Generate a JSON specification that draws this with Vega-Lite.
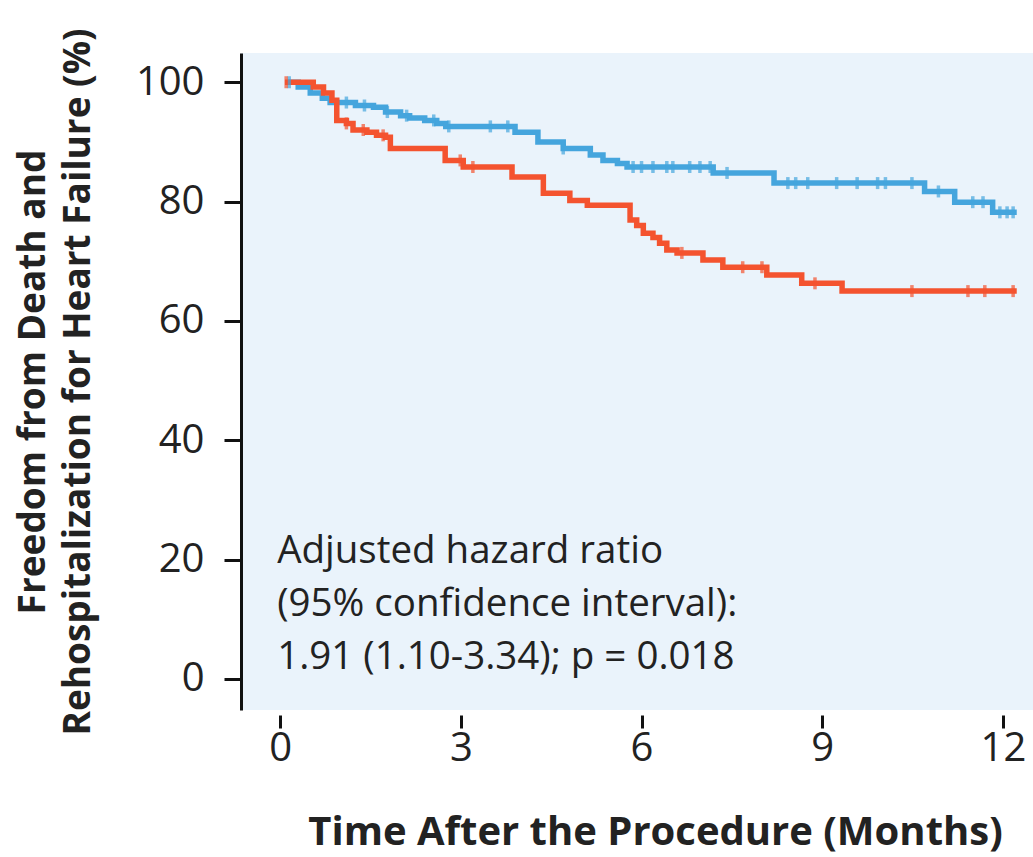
{
  "$schema": "https://vega.github.io/schema/vega-lite/v6.json",
  "width": 792,
  "height": 657,
  "autosize": {"type": "none"},
  "padding": {"left": 241, "top": 53, "right": 0, "bottom": 147},
  "background": "white",
  "config": {
    "font": "Open Sans",
    "view": {"fill": "#EAF3FB", "stroke": null}
  },
  "datasets": {
    "curves": [
      {"group": "Blue", "month": 0.13, "pct": 100},
      {"group": "Blue", "month": 0.3, "pct": 99.2},
      {"group": "Blue", "month": 0.5, "pct": 98.2},
      {"group": "Blue", "month": 0.7, "pct": 97.3},
      {"group": "Blue", "month": 0.83, "pct": 96.6},
      {"group": "Blue", "month": 1.25, "pct": 96.1},
      {"group": "Blue", "month": 1.55, "pct": 95.8},
      {"group": "Blue", "month": 1.75, "pct": 95.0},
      {"group": "Blue", "month": 2.0, "pct": 94.4},
      {"group": "Blue", "month": 2.15, "pct": 94.0},
      {"group": "Blue", "month": 2.4, "pct": 93.6},
      {"group": "Blue", "month": 2.6, "pct": 93.1},
      {"group": "Blue", "month": 2.75, "pct": 92.6},
      {"group": "Blue", "month": 3.9, "pct": 91.6},
      {"group": "Blue", "month": 4.28, "pct": 90.0},
      {"group": "Blue", "month": 4.7, "pct": 88.9},
      {"group": "Blue", "month": 5.15, "pct": 87.8},
      {"group": "Blue", "month": 5.36, "pct": 86.9},
      {"group": "Blue", "month": 5.6, "pct": 86.4},
      {"group": "Blue", "month": 5.76, "pct": 85.8},
      {"group": "Blue", "month": 7.19, "pct": 84.8},
      {"group": "Blue", "month": 8.2, "pct": 83.1},
      {"group": "Blue", "month": 10.7, "pct": 81.7},
      {"group": "Blue", "month": 11.2, "pct": 79.9},
      {"group": "Blue", "month": 11.83, "pct": 78.2},
      {"group": "Blue", "month": 12.23, "pct": 78.2},
      {"group": "Red", "month": 0.08, "pct": 100},
      {"group": "Red", "month": 0.55, "pct": 99.2},
      {"group": "Red", "month": 0.72, "pct": 98.2},
      {"group": "Red", "month": 0.86, "pct": 97.0},
      {"group": "Red", "month": 0.94, "pct": 93.6},
      {"group": "Red", "month": 1.1, "pct": 93.1},
      {"group": "Red", "month": 1.21, "pct": 92.0},
      {"group": "Red", "month": 1.44, "pct": 91.6},
      {"group": "Red", "month": 1.6, "pct": 91.1},
      {"group": "Red", "month": 1.75, "pct": 90.8},
      {"group": "Red", "month": 1.83, "pct": 88.9},
      {"group": "Red", "month": 2.74, "pct": 86.9},
      {"group": "Red", "month": 3.04, "pct": 85.8},
      {"group": "Red", "month": 3.85, "pct": 84.1},
      {"group": "Red", "month": 4.37, "pct": 81.4},
      {"group": "Red", "month": 4.81, "pct": 80.2},
      {"group": "Red", "month": 5.1, "pct": 79.4},
      {"group": "Red", "month": 5.81, "pct": 76.9},
      {"group": "Red", "month": 5.92, "pct": 76.0},
      {"group": "Red", "month": 6.03, "pct": 74.7},
      {"group": "Red", "month": 6.19, "pct": 74.0},
      {"group": "Red", "month": 6.3, "pct": 73.0},
      {"group": "Red", "month": 6.42, "pct": 71.9},
      {"group": "Red", "month": 6.59, "pct": 71.4},
      {"group": "Red", "month": 7.02, "pct": 70.2},
      {"group": "Red", "month": 7.35, "pct": 69.0},
      {"group": "Red", "month": 8.08, "pct": 67.7},
      {"group": "Red", "month": 8.66, "pct": 66.3},
      {"group": "Red", "month": 9.33, "pct": 65.0},
      {"group": "Red", "month": 12.23, "pct": 65.0}
    ],
    "censored": [
      {"group": "Blue", "month": 0.15, "pct": 100},
      {"group": "Blue", "month": 1.1, "pct": 96.6},
      {"group": "Blue", "month": 1.4, "pct": 96.1},
      {"group": "Blue", "month": 1.78, "pct": 95.0},
      {"group": "Blue", "month": 2.1, "pct": 94.4},
      {"group": "Blue", "month": 2.55, "pct": 93.6},
      {"group": "Blue", "month": 2.8, "pct": 92.6},
      {"group": "Blue", "month": 3.49, "pct": 92.6},
      {"group": "Blue", "month": 3.78, "pct": 92.6},
      {"group": "Blue", "month": 4.7, "pct": 88.9},
      {"group": "Blue", "month": 5.86, "pct": 85.8},
      {"group": "Blue", "month": 6.0, "pct": 85.8},
      {"group": "Blue", "month": 6.19, "pct": 85.8},
      {"group": "Blue", "month": 6.42, "pct": 85.8},
      {"group": "Blue", "month": 6.52, "pct": 85.8},
      {"group": "Blue", "month": 6.8, "pct": 85.8},
      {"group": "Blue", "month": 6.97, "pct": 85.8},
      {"group": "Blue", "month": 7.14, "pct": 85.8},
      {"group": "Blue", "month": 7.42, "pct": 84.8},
      {"group": "Blue", "month": 8.43, "pct": 83.1},
      {"group": "Blue", "month": 8.56, "pct": 83.1},
      {"group": "Blue", "month": 8.76, "pct": 83.1},
      {"group": "Blue", "month": 9.24, "pct": 83.1},
      {"group": "Blue", "month": 9.58, "pct": 83.1},
      {"group": "Blue", "month": 9.92, "pct": 83.1},
      {"group": "Blue", "month": 10.05, "pct": 83.1},
      {"group": "Blue", "month": 10.49, "pct": 83.1},
      {"group": "Blue", "month": 10.93, "pct": 81.7},
      {"group": "Blue", "month": 11.5, "pct": 79.9},
      {"group": "Blue", "month": 11.67, "pct": 79.9},
      {"group": "Blue", "month": 11.95, "pct": 78.2},
      {"group": "Blue", "month": 12.07, "pct": 78.2},
      {"group": "Blue", "month": 12.17, "pct": 78.2},
      {"group": "Red", "month": 0.1, "pct": 100},
      {"group": "Red", "month": 1.1, "pct": 93.1},
      {"group": "Red", "month": 1.38, "pct": 92.0},
      {"group": "Red", "month": 1.71, "pct": 91.1},
      {"group": "Red", "month": 2.99, "pct": 86.9},
      {"group": "Red", "month": 3.2, "pct": 85.8},
      {"group": "Red", "month": 6.67, "pct": 71.4},
      {"group": "Red", "month": 7.68, "pct": 69.0},
      {"group": "Red", "month": 8.0, "pct": 69.0},
      {"group": "Red", "month": 8.88, "pct": 66.3},
      {"group": "Red", "month": 10.49, "pct": 65.0},
      {"group": "Red", "month": 11.42, "pct": 65.0},
      {"group": "Red", "month": 11.7, "pct": 65.0},
      {"group": "Red", "month": 12.17, "pct": 65.0}
    ],
    "note": [
      {"month": -0.05, "pct": 19.5, "label": ["Adjusted hazard ratio", "(95% confidence interval):", "1.91 (1.10-3.34); p = 0.018"]}
    ]
  },
  "encoding": {
    "x": {
      "field": "month",
      "type": "quantitative",
      "scale": {"domain": [-0.65, 12.5], "nice": false, "zero": false},
      "axis": {
        "title": "Time After the Procedure (Months)",
        "values": [0, 3, 6, 9, 12],
        "grid": false,
        "domain": false,
        "offset": 5,
        "tickSize": 13,
        "tickWidth": 3,
        "tickColor": "#111",
        "labelFontSize": 40,
        "labelColor": "#222",
        "labelPadding": 0,
        "titleFontSize": 40,
        "titleFontWeight": "bold",
        "titleColor": "#222",
        "titlePadding": 44,
        "titleX": 414
      }
    },
    "y": {
      "field": "pct",
      "type": "quantitative",
      "scale": {"domain": [-5.2, 104.9], "nice": false, "zero": false},
      "axis": {
        "title": ["Freedom from Death and", "Rehospitalization for Heart Failure (%)"],
        "values": [0, 20, 40, 60, 80, 100],
        "grid": false,
        "domain": true,
        "domainColor": "#111",
        "domainWidth": 3,
        "tickSize": 17,
        "tickWidth": 3,
        "tickColor": "#111",
        "labelFontSize": 40,
        "labelColor": "#222",
        "labelPadding": 20,
        "titleFontSize": 37,
        "titleFontWeight": "bold",
        "titleColor": "#222",
        "titleLineHeight": 45,
        "titlePadding": 38
      }
    }
  },
  "layer": [
    {
      "data": {"name": "curves"},
      "mark": {"type": "line", "interpolate": "step-after", "strokeWidth": 5.5},
      "encoding": {
        "color": {
          "field": "group",
          "type": "nominal",
          "scale": {"domain": ["Blue", "Red"], "range": ["#45A5DD", "#F4532F"]},
          "legend": null
        }
      }
    },
    {
      "data": {"name": "censored"},
      "mark": {"type": "tick", "orient": "vertical", "size": 12, "thickness": 3.5},
      "encoding": {
        "color": {
          "field": "group",
          "type": "nominal",
          "scale": {"domain": ["Blue", "Red"], "range": ["#45A5DD", "#F4532F"]},
          "legend": null
        }
      }
    },
    {
      "data": {"values": [{}]},
      "mark": {"type": "rule", "color": "#111", "strokeWidth": 3},
      "encoding": {"y": {"datum": -5.2}, "x": null}
    },
    {
      "data": {"name": "note"},
      "mark": {"type": "text", "align": "left", "baseline": "alphabetic", "fontSize": 38.5, "lineHeight": 53, "color": "#222"},
      "encoding": {"text": {"field": "label"}}
    }
  ]
}
